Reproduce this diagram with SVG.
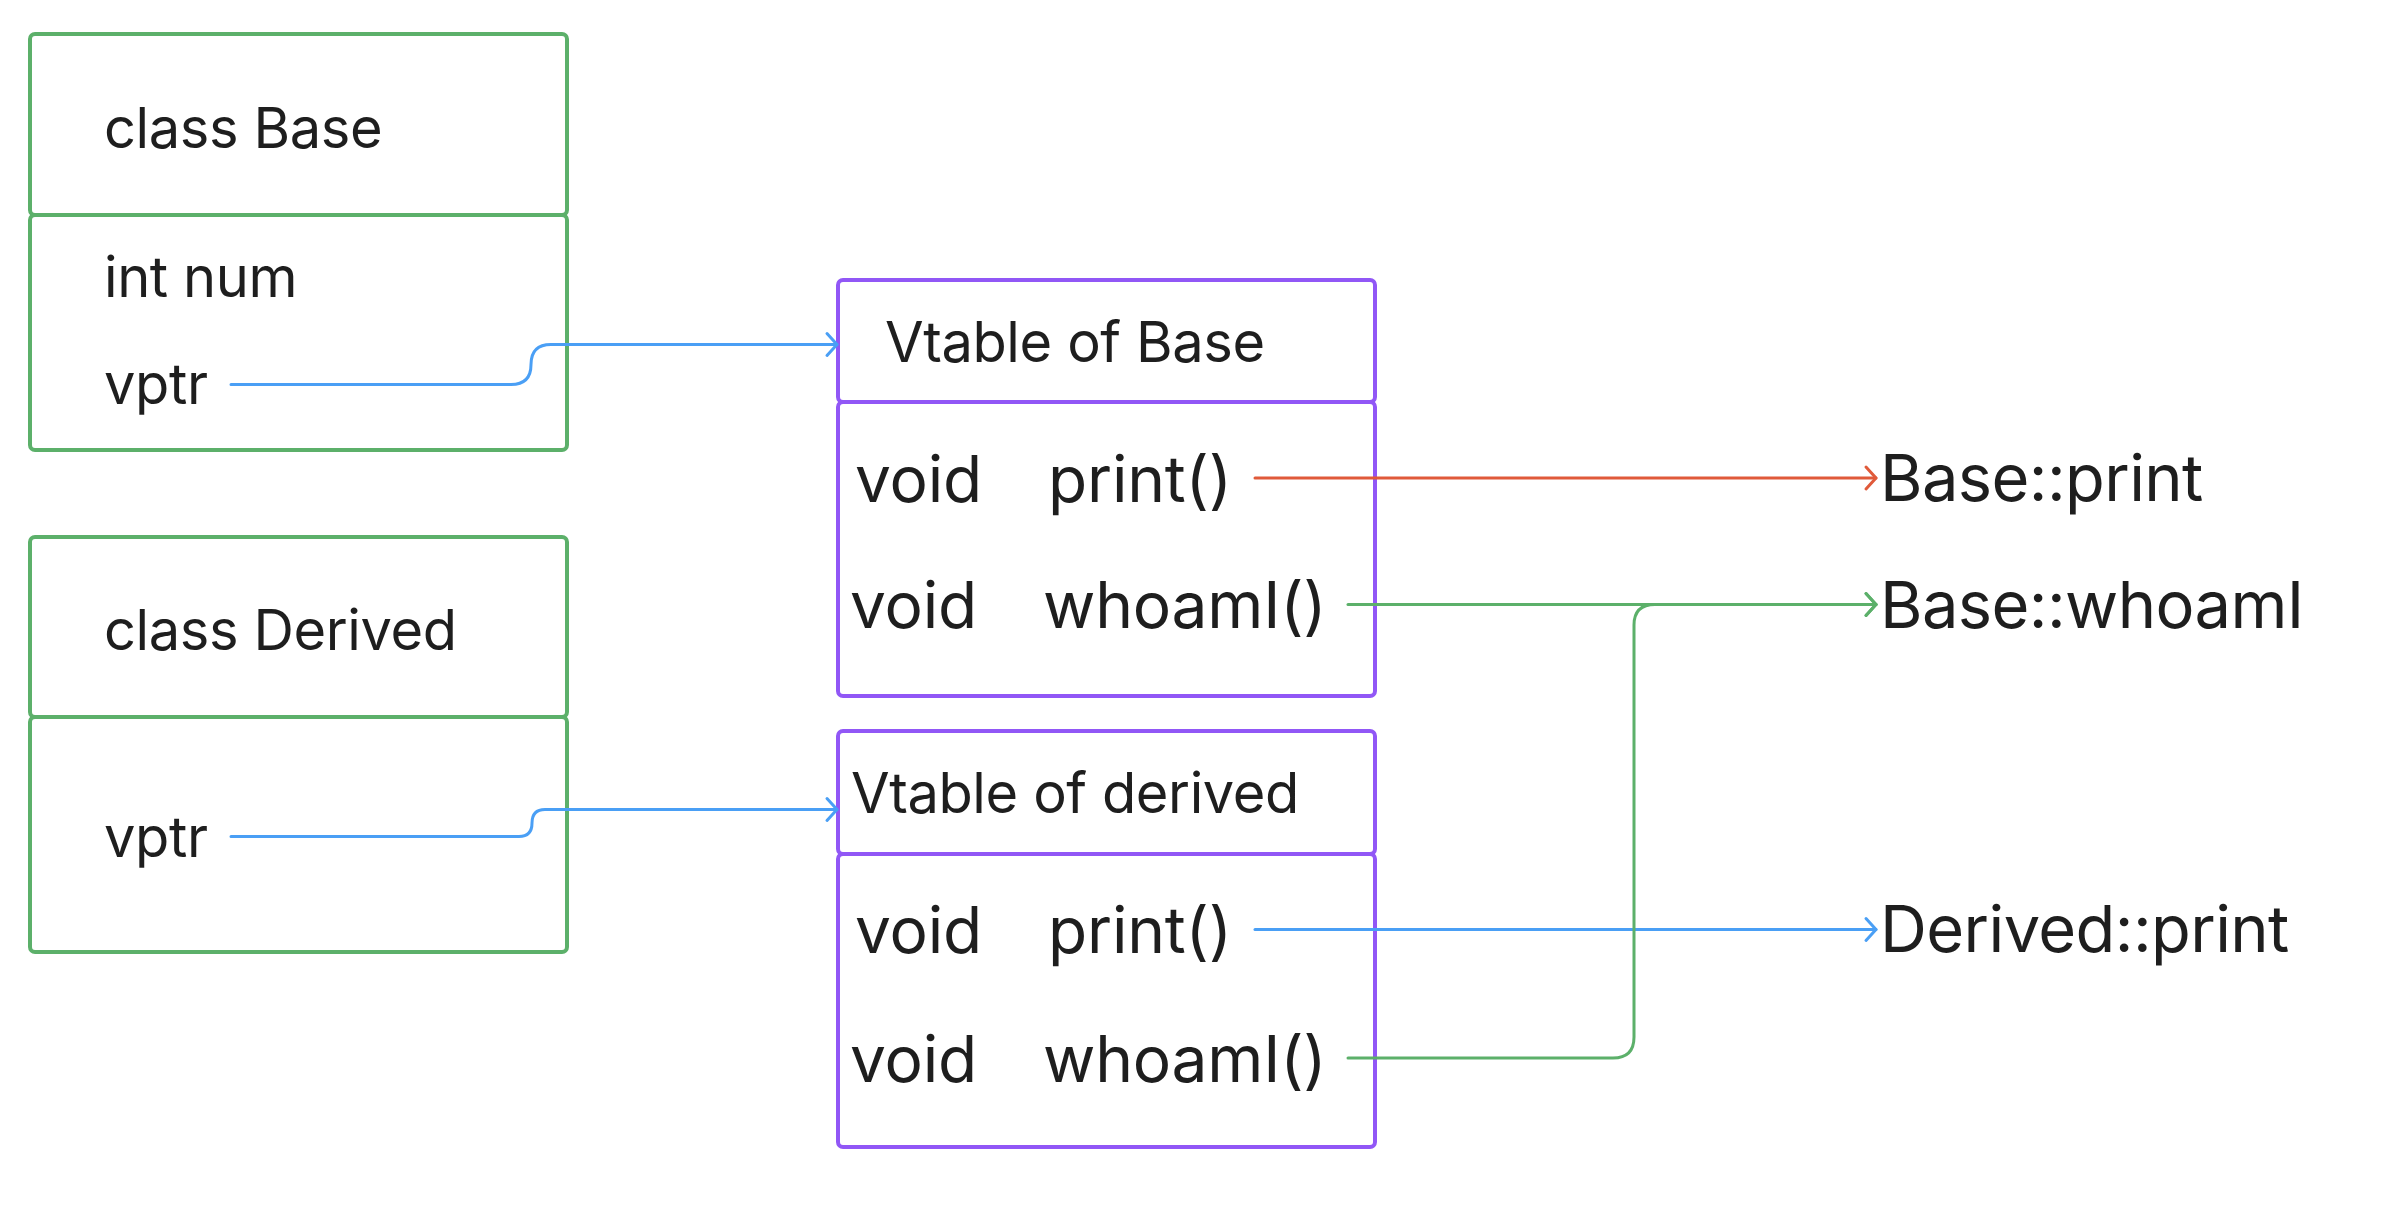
<svg xmlns="http://www.w3.org/2000/svg" width="2388" height="1208" viewBox="0 0 2388 1208">
<defs>
<style>
.t{font-family:Inter,"Noto Sans","Liberation Sans",sans-serif;fill:#1e1e1e;}
.h{font-size:56px;letter-spacing:-0.4px;}
.f{font-size:64px;letter-spacing:-0.2px;}
.r{font-size:65px;letter-spacing:-0.6px;}
.g{fill:none;stroke:#5cb06a;stroke-width:4;}
.p{fill:none;stroke:#9157f6;stroke-width:4;}
.c{fill:none;stroke-width:3;stroke-linecap:round;stroke-linejoin:round;}
</style>
<marker id="ab" markerUnits="userSpaceOnUse" markerWidth="30" markerHeight="30" refX="14" refY="14" orient="auto" viewBox="0 0 30 30"><path d="M4,3 L14,14 L4,25" fill="none" stroke="#4a9ff5" stroke-width="3" stroke-linecap="round" stroke-linejoin="round"/></marker>
<marker id="ar" markerUnits="userSpaceOnUse" markerWidth="30" markerHeight="30" refX="14" refY="14" orient="auto" viewBox="0 0 30 30"><path d="M4,3 L14,14 L4,25" fill="none" stroke="#e05a3a" stroke-width="3" stroke-linecap="round" stroke-linejoin="round"/></marker>
<marker id="ag" markerUnits="userSpaceOnUse" markerWidth="30" markerHeight="30" refX="14" refY="14" orient="auto" viewBox="0 0 30 30"><path d="M4,3 L14,14 L4,25" fill="none" stroke="#5cb06a" stroke-width="3" stroke-linecap="round" stroke-linejoin="round"/></marker>
</defs>
<rect width="2388" height="1208" fill="#ffffff"/>
<g id="class-base">
<rect class="g" x="30" y="34" width="537" height="181" rx="5"/>
<rect class="g" x="30" y="215" width="537" height="235" rx="5"/>
<text class="t h" x="104" y="148">class Base</text>
<text class="t h" x="104" y="297">int num</text>
<text class="t h" x="104" y="404">vptr</text>
</g>
<g id="class-derived">
<rect class="g" x="30" y="537" width="537" height="180" rx="5"/>
<rect class="g" x="30" y="717" width="537" height="235" rx="5"/>
<text class="t h" x="104" y="650">class Derived</text>
<text class="t h" x="104" y="857">vptr</text>
</g>
<g id="vtable-base">
<rect class="p" x="838" y="280" width="537" height="122" rx="5"/>
<rect class="p" x="838" y="402" width="537" height="294" rx="5"/>
<text class="t h" x="885" y="362">Vtable of Base</text>
<text class="t f" x="855" y="502">void</text>
<text class="t f" x="1048" y="502">print()</text>
<text class="t f" x="850" y="628">void</text>
<text class="t f" x="1043" y="628">whoamI()</text>
</g>
<g id="vtable-derived">
<rect class="p" x="838" y="731" width="537" height="123" rx="5"/>
<rect class="p" x="838" y="854" width="537" height="293" rx="5"/>
<text class="t h" x="851" y="813">Vtable of derived</text>
<text class="t f" x="855" y="953">void</text>
<text class="t f" x="1048" y="953">print()</text>
<text class="t f" x="850" y="1082">void</text>
<text class="t f" x="1043" y="1082">whoamI()</text>
</g>
<g id="base-print"><text class="t r" x="1880" y="501">Base::print</text></g>
<g id="base-whoami"><text class="t r" x="1880" y="628">Base::whoamI</text></g>
<g id="derived-print"><text class="t r" x="1880" y="952">Derived::print</text></g>
<g id="connectors">
<path class="c" stroke="#4a9ff5" d="M231,384.5 H511 Q531,384.5 531,364.5 Q531,344.5 551,344.5 H837" marker-end="url(#ab)"/>
<path class="c" stroke="#4a9ff5" d="M231,836.5 H519 Q532,836.5 532,823 Q532,809.5 545,809.5 H837" marker-end="url(#ab)"/>
<path class="c" stroke="#e05a3a" d="M1255,478 H1876" marker-end="url(#ar)"/>
<path class="c" stroke="#5cb06a" d="M1348,604.5 H1876" marker-end="url(#ag)"/>
<path class="c" stroke="#4a9ff5" d="M1255,929.5 H1876" marker-end="url(#ab)"/>
<path class="c" stroke="#5cb06a" d="M1348,1058 H1613 Q1634,1058 1634,1037 V625 Q1634,604.5 1655,604.5 H1876" marker-end="url(#ag)"/>
</g>
</svg>
